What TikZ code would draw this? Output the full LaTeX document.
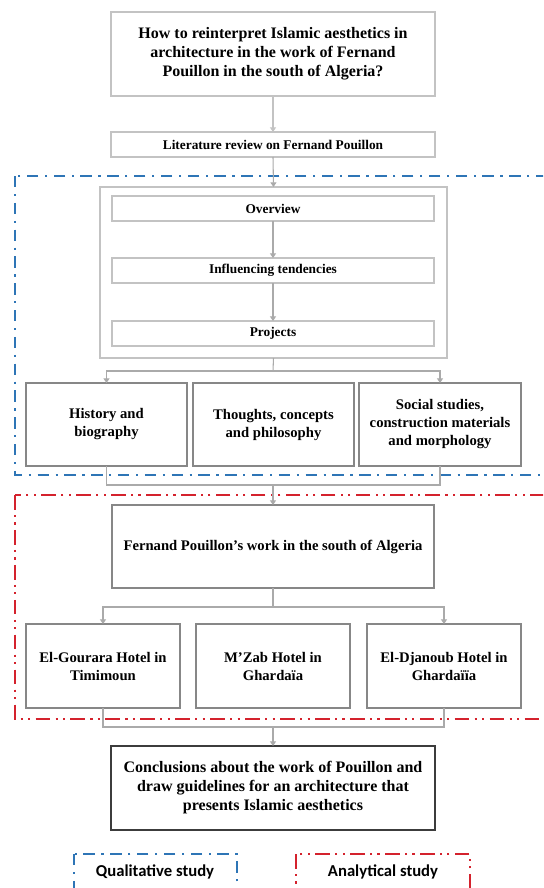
\documentclass[tikz,border=0pt]{standalone}
\usepackage{fontspec}
\setmainfont{Liberation Serif}
\newfontfamily\legendfont{Carlito}
\usetikzlibrary{arrows.meta}
\definecolor{qblue}{RGB}{46,117,182}
\definecolor{ared}{RGB}{212,34,45}
\definecolor{lgray}{RGB}{195,195,195}
\definecolor{mgray}{RGB}{170,170,170}
\definecolor{bgray}{RGB}{135,135,135}
\definecolor{dgray}{RGB}{60,60,60}
\tikzset{
  box/.style={draw, rectangle, inner sep=2pt, outer sep=0pt, align=center, font=\bfseries},
  conn/.style={draw=mgray, line width=0.8pt},
  arr/.style={conn, -{Triangle[width=4.5pt,length=3.5pt]}},
  bluedash/.style={draw=qblue, line width=1.9pt, dash pattern=on 8.5pt off 5pt on 1.6pt off 5pt},
  reddash/.style={draw=ared, line width=1.9pt, dash pattern=on 11pt off 4pt on 1.6pt off 4pt on 1.6pt off 4pt},
  legendtext/.style={font=\legendfont\bfseries\fontsize{12.5}{15}\selectfont, inner sep=0pt}
}
\begin{document}
\begin{tikzpicture}[x=0.75pt,y=-0.75pt]
\useasboundingbox (0,0) rectangle (543,888);
\clip (0,0) rectangle (543,888);
\fill[white] (0,0) rectangle (543,888);

% frames
\draw[bluedash] (15,176) rectangle (545,475);
\draw[reddash] (15,495) rectangle (545,719);

% nodes
\node[box, draw=lgray, line width=1.9pt, minimum width=243pt, minimum height=63pt,
      font=\bfseries\fontsize{12}{14.25}\selectfont] (q) at (273,54)
  {How to reinterpret Islamic aesthetics in\\architecture in the work of Fernand\\Pouillon in the south of Algeria?};
\node[box, draw=lgray, line width=0.8pt, minimum width=243pt, minimum height=18.75pt,
      font=\bfseries\fontsize{10}{12}\selectfont] (lit) at (273,144.5) {Literature review on Fernand Pouillon};

\node[box, draw=lgray, line width=1pt, minimum width=260.25pt, minimum height=128.25pt] (grp) at (273.5,272.5) {};
\node[box, draw=lgray, line width=1.2pt, minimum width=241.5pt, minimum height=18.75pt,
      font=\bfseries\fontsize{10}{12}\selectfont] (ov) at (273,208.5) {Overview};
\node[box, draw=lgray, line width=1.2pt, minimum width=241.5pt, minimum height=18.75pt,
      font=\bfseries\fontsize{10}{12}\selectfont] (inf) at (273,270.5) {Influencing tendencies};
\node[box, draw=lgray, line width=1.2pt, minimum width=241.5pt, minimum height=18.75pt,
      font=\bfseries\fontsize{10}{12}\selectfont] (proj) at (273,333.5) {Projects};

\node[box, draw=bgray, line width=1.1pt, minimum width=120.75pt, minimum height=62.25pt,
      font=\bfseries\fontsize{11}{13.5}\selectfont] (hb) at (106.5,424.5) {History and\\biography};
\node[box, draw=bgray, line width=1.1pt, minimum width=120.75pt, minimum height=62.25pt,
      font=\bfseries\fontsize{11}{13.5}\selectfont] (tc) at (273.5,424.5) {Thoughts, concepts\\and philosophy};
\node[box, draw=bgray, line width=1.1pt, minimum width=121.5pt, minimum height=62.25pt,
      font=\bfseries\fontsize{11}{13.5}\selectfont] (ss) at (440,424.5) {Social studies,\\construction materials\\and morphology};

\node[box, draw=bgray, line width=1.1pt, minimum width=241.5pt, minimum height=62.25pt,
      font=\bfseries\fontsize{11}{13.5}\selectfont] (fp) at (273,546.5) {Fernand Pouillon’s work in the south of Algeria};

\node[box, draw=bgray, line width=1.1pt, minimum width=115.5pt, minimum height=63pt,
      font=\bfseries\fontsize{11}{13.5}\selectfont] (h1) at (103,666) {El-Gourara Hotel in\\Timimoun};
\node[box, draw=bgray, line width=1.1pt, minimum width=115.5pt, minimum height=63pt,
      font=\bfseries\fontsize{11}{13.5}\selectfont] (h2) at (273,666) {M’Zab Hotel in\\Ghardaïa};
\node[box, draw=bgray, line width=1.1pt, minimum width=115.5pt, minimum height=63pt,
      font=\bfseries\fontsize{11}{13.5}\selectfont] (h3) at (444,666) {El-Djanoub Hotel in\\Ghardaïïa};

\node[box, draw=dgray, line width=2.1pt, minimum width=243pt, minimum height=63pt,
      font=\bfseries\fontsize{12}{14.25}\selectfont] (con) at (273,788)
  {Conclusions about the work of Pouillon and\\draw guidelines for an architecture that\\presents Islamic aesthetics};

% junctions
\coordinate (j1) at (273,371);
\coordinate (j2) at (273,485);
\coordinate (j3) at (273,607);
\coordinate (j4) at (273,727);

% connectors
\draw[arr, draw=lgray] (q.south) -- (lit.north);
\draw[arr] (lit.south) -- (grp.north);
\draw[arr] (ov.south) -- (inf.north);
\draw[arr] (inf.south) -- (proj.north);
\draw[conn] (grp.south) -- (j1);
\draw[arr] (j1) -| (hb.north);
\draw[arr] (j1) -| (ss.north);
\draw[conn] (hb.south) |- (j2) -| (ss.south);
\draw[arr] (j2) -- (fp.north);
\draw[conn] (fp.south) -- (j3);
\draw[arr] (j3) -| (h1.north);
\draw[arr] (j3) -| (h3.north);
\draw[conn] (h1.south) |- (j4) -| (h3.south);
\draw[arr] (j4) -- (con.north);

% legend
\draw[bluedash] (74,854) rectangle (237,889);
\node[legendtext] (lq) at (155,872) {Qualitative study};
\draw[reddash] (296,854) rectangle (470,889);
\node[legendtext] (la) at (383,872) {Analytical study};
\end{tikzpicture}
\end{document}
